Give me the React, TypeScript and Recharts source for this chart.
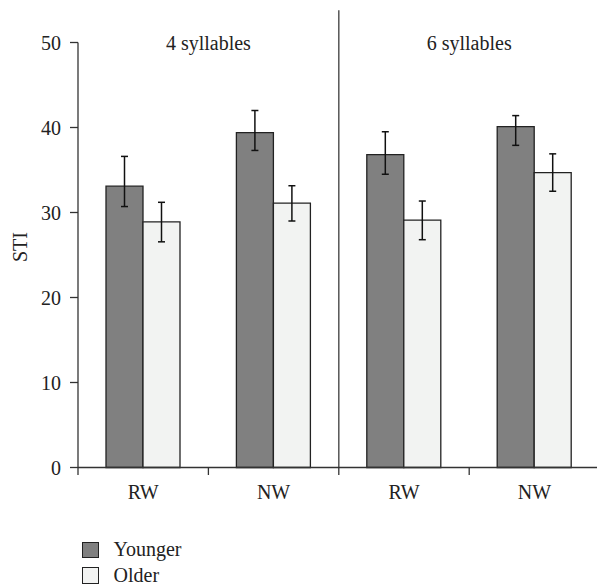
import { BarChart, Bar, XAxis, YAxis, ErrorBar, ReferenceLine, ReferenceDot } from 'recharts'

const categories = ['RW', 'NW', 'RW', 'NW']
const sections = ['4 syllables', '6 syllables']
const seriesNames = ['Younger', 'Older']
const younger = [33.1, 39.4, 36.8, 40.1]
// [below, above] lengths of the error bars
const youngerErr = [[2.4, 3.5], [2.1, 2.6], [2.3, 2.7], [2.2, 1.3]]
const older = [28.9, 31.1, 29.1, 34.7]
const olderErr = [[2.35, 2.3], [2.1, 2.05], [2.3, 2.25], [2.2, 2.2]]
const yTicks = [0, 10, 20, 30, 40, 50]

const FONT = "'Liberation Serif', 'Times New Roman', Times, 'DejaVu Serif', serif"
const INK = '#222'
const AXIS = '#333'
const fills = ['#808080', '#f2f3f2']

const data = categories.map((c, i) => ({
  name: c,
  x: i + 0.5,
  younger: younger[i],
  youngerErr: youngerErr[i],
  older: older[i],
  olderErr: olderErr[i],
}))

// boundaries get tick marks, centres get the category labels
const xTicks = categories.flatMap((_, i) => [i, i + 0.5])

function XTick({ x, y, payload }: { x?: number; y?: number; payload?: { value: number } }) {
  const v = payload?.value ?? 0
  if (Number.isInteger(v)) {
    return <line x1={x} x2={x} y1={y} y2={(y ?? 0) + 7.5} stroke={AXIS} strokeWidth={1.3} />
  }
  return (
    <text x={x} y={(y ?? 0) + 31} textAnchor="middle" style={{ fontFamily: FONT }} fontSize={20} fill={INK}>
      {categories[Math.floor(v)]}
    </text>
  )
}

function YLabel({ viewBox }: { viewBox?: { x: number; y: number; width: number; height: number } }) {
  if (!viewBox) return null
  const cx = viewBox.x + 19.5
  const cy = viewBox.y + viewBox.height / 2 - 8
  return (
    <text
      x={cx}
      y={cy}
      transform={`rotate(-90 ${cx} ${cy})`}
      textAnchor="middle"
      dominantBaseline="central"
      style={{ fontFamily: FONT }}
      fontSize={20}
      fill={INK}
    >
      STI
    </text>
  )
}

export default function App() {
  return (
    <div
      style={{
        position: 'fixed', left: 0, top: 0, width: 597, height: 586,
        overflow: 'hidden', background: '#fff', fontFamily: FONT,
      }}
    >
      <BarChart
        width={620}
        height={520}
        data={data}
        margin={{ top: 42.5, right: 20.4, left: 0, bottom: 12.5 }}
        barSize={37}
        barGap={0}
        style={{ fontFamily: FONT }}
      >
        <XAxis xAxisId="cat" dataKey="x" type="category" hide height={0} />
        <XAxis
          xAxisId="num"
          dataKey="x"
          type="number"
          domain={[0, 4]}
          ticks={xTicks}
          interval={0}
          height={40}
          tickSize={0}
          tickMargin={0}
          tickLine={false}
          tick={<XTick />}
          axisLine={{ stroke: AXIS, strokeWidth: 1.3 }}
        />
        <YAxis
          domain={[0, 50]}
          ticks={yTicks}
          width={78}
          tickSize={8}
          tickMargin={9}
          tick={{ fontFamily: FONT, fontSize: 20, fill: INK, style: { fontFamily: FONT } }}
          tickLine={{ stroke: AXIS, strokeWidth: 1.3 }}
          axisLine={{ stroke: AXIS, strokeWidth: 1.3 }}
          label={<YLabel />}
        />
        <ReferenceLine
          xAxisId="num"
          segment={[{ x: 2, y: 0 }, { x: 2, y: 53.8 }]}
          ifOverflow="visible"
          stroke="#555"
          strokeWidth={1.5}
        />
        {sections.map((s, i) => (
          <ReferenceDot
            key={s}
            xAxisId="num"
            x={i * 2 + 1}
            y={50}
            r={0}
            fill="none"
            stroke="none"
            ifOverflow="visible"
            label={{ value: s, position: 'center', fontSize: 20, fill: INK, style: { fontFamily: FONT } }}
          />
        ))}
        <Bar xAxisId="cat" dataKey="younger" name={seriesNames[0]} fill={fills[0]} stroke={INK} strokeWidth={1.3} isAnimationActive={false}>
          <ErrorBar dataKey="youngerErr" direction="y" width={3.5} stroke="#111" strokeWidth={1.5} />
        </Bar>
        <Bar xAxisId="cat" dataKey="older" name={seriesNames[1]} fill={fills[1]} stroke={INK} strokeWidth={1.3} isAnimationActive={false}>
          <ErrorBar dataKey="olderErr" direction="y" width={3.5} stroke="#111" strokeWidth={1.5} />
        </Bar>
      </BarChart>
      <div style={{ position: 'absolute', left: 82, top: 537, fontSize: 20, color: INK }}>
        {seriesNames.map((n, i) => (
          <div key={n} style={{ display: 'flex', alignItems: 'center', height: 25.5 }}>
            <span
              style={{
                display: 'inline-block',
                width: 14.5,
                height: 14.5,
                background: fills[i],
                border: `1.2px solid ${INK}`,
                marginRight: 15,
              }}
            />
            <span>{n}</span>
          </div>
        ))}
      </div>
    </div>
  )
}
